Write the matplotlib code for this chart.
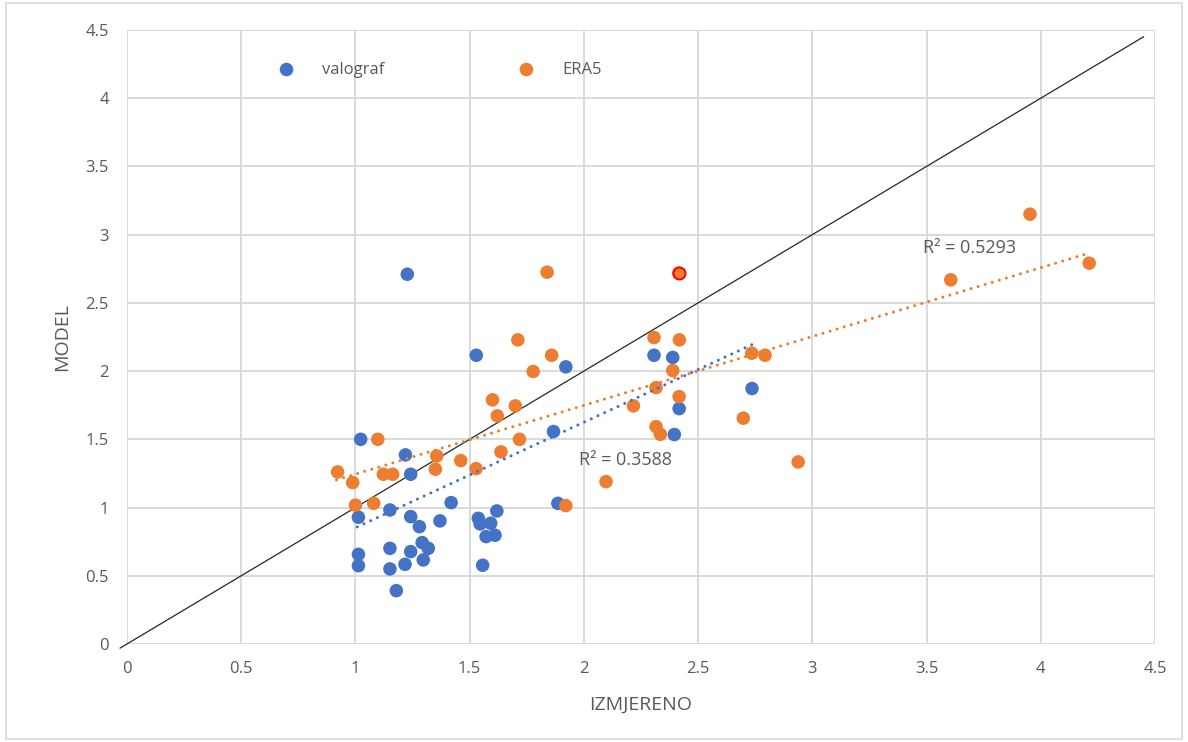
import numpy as np
import matplotlib.pyplot as plt
from matplotlib.patches import Rectangle

# valograf (blue)
valograf_x = [1.023, 1.219, 1.242, 1.867, 1.419, 1.151, 1.013, 1.242, 1.280, 1.370,
              1.538, 1.546, 1.592, 1.619, 1.572, 1.611, 1.557, 1.292, 1.319, 1.297,
              1.242, 1.217, 1.151, 1.151, 1.013, 1.013, 1.179, 1.886, 1.227, 1.529,
              1.921, 2.307, 2.389, 2.417, 2.396, 2.736]
valograf_y = [1.50, 1.386, 1.244, 1.557, 1.036, 0.982, 0.929, 0.933, 0.860, 0.902,
              0.921, 0.880, 0.885, 0.975, 0.787, 0.797, 0.577, 0.743, 0.701, 0.616,
              0.677, 0.584, 0.701, 0.550, 0.657, 0.574, 0.391, 1.031, 2.71, 2.116,
              2.031, 2.116, 2.10, 1.725, 1.535, 1.872]

# ERA5 (orange)
era5_x = [1.600, 1.700, 1.621, 2.217, 1.098, 1.718, 1.356, 1.461, 1.637, 1.350,
          1.528, 0.922, 1.122, 1.163, 0.988, 2.097, 1.000, 1.080, 1.921, 1.839,
          1.711, 1.859, 1.778, 2.415, 2.307, 2.418, 2.389, 2.316, 2.417, 2.316,
          2.335, 2.698, 2.735, 2.793, 2.938, 3.953, 3.606, 4.212]
era5_y = [1.789, 1.745, 1.672, 1.745, 1.50, 1.50, 1.378, 1.344, 1.408, 1.281,
          1.285, 1.261, 1.244, 1.244, 1.183, 1.19, 1.017, 1.031, 1.014, 2.725,
          2.229, 2.116, 1.997, 2.718, 2.246, 2.229, 2.004, 1.879, 1.813, 1.593,
          1.537, 1.655, 2.131, 2.116, 1.334, 3.15, 2.669, 2.791]
highlight_idx = 23  # point outlined in red

# linear trendlines as shown on the chart (slope, intercept)
valograf_trend = (0.773, 0.079)
era5_trend = (0.5045, 0.740)
r2_valograf = "R² = 0.3588"
r2_era5 = "R² = 0.5293"

ticks = [0, 0.5, 1, 1.5, 2, 2.5, 3, 3.5, 4, 4.5]
tick_labels = ["0", "0.5", "1", "1.5", "2", "2.5", "3", "3.5", "4", "4.5"]

BLUE = "#4472C4"
ORANGE = "#ED7D31"
GREY = "#595959"
GRID = "#d9d9d9"

plt.rcParams["font.family"] = ["Open Sans", "DejaVu Sans"]

fig = plt.figure(figsize=(11.88, 7.42), dpi=100)
fig.patches.append(Rectangle((0.005, 0.004), 0.99, 0.992, transform=fig.transFigure,
                             fill=False, edgecolor=GRID, linewidth=1.2))
ax = fig.add_axes([0.1069, 0.1321, 0.8653, 0.8275])

ax.set_xlim(0, 4.5)
ax.set_ylim(0, 4.5)
ax.set_xticks(ticks, tick_labels)
ax.set_yticks(ticks, tick_labels)
ax.tick_params(length=0, labelsize=12, labelcolor=GREY)
ax.tick_params(axis="x", pad=12)
ax.tick_params(axis="y", pad=13)
ax.grid(True, color=GRID, linewidth=1.4)
ax.set_axisbelow(True)
for s in ax.spines.values():
    s.set_visible(False)

# 1:1 line
ax.plot([-0.03, 4.45], [-0.03, 4.45], color="#262626", linewidth=0.9, clip_on=False, zorder=2)

ax.scatter(valograf_x, valograf_y, s=95, color=BLUE, edgecolors="none", zorder=3, label="valograf")
ax.scatter(era5_x, era5_y, s=95, color=ORANGE, edgecolors="none", zorder=3, label="ERA5")
ax.scatter([era5_x[highlight_idx]], [era5_y[highlight_idx]], s=75, color=ORANGE,
           edgecolors="red", linewidths=1.4, zorder=4)

# dotted trendlines over each series' x range
for xs, (k, b), c in [(valograf_x, valograf_trend, BLUE), (era5_x, era5_trend, ORANGE)]:
    xx = np.array([min(xs) - 0.005, max(xs) + 0.005])
    ax.plot(xx, k * xx + b, color=c, linewidth=2.2, linestyle=(0, (0.01, 2.4)),
            dash_capstyle="round", zorder=4)

ax.text(1.98, 1.35, r2_valograf, fontsize=13, color=GREY, va="center")
ax.text(3.485, 2.90, r2_era5, fontsize=13, color=GREY, va="center")

ax.set_xlabel("IZMJERENO", fontsize=14, color=GREY, labelpad=14)
ax.set_ylabel("MODEL", fontsize=14, color=GREY, labelpad=10)

ax.legend(loc="center left", bbox_to_anchor=(0.139, 0.935), ncol=2, frameon=False,
          fontsize=12, labelcolor=GREY, columnspacing=7.5, handletextpad=1.15,
          borderpad=0, borderaxespad=0, markerscale=1)

fig.savefig("out.png", dpi=100)
